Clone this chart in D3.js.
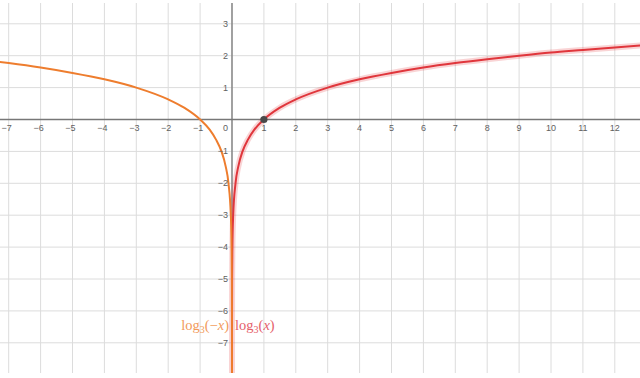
<!DOCTYPE html>
<html>
<head>
<meta charset="utf-8">
<script src="https://cdn.jsdelivr.net/npm/d3@7"></script>
<style>
  body { margin: 0; background: #fff; }
</style>
</head>
<body>
<div id="chart"></div>
<script>
// Points
var log_x = [0.00012, 0.001, 0.004, 0.012, 0.037, 0.11, 0.2, 0.33, 0.5, 0.7, 1, 1.5, 2, 3, 4, 5, 6, 7, 8, 9, 10, 11, 12, 12.9];
var log_y = [-8.2, -6.29, -5.03, -4.03, -3.0, -2.0, -1.46, -1.0, -0.63, -0.32, 0, 0.37, 0.63, 1.0, 1.26, 1.46, 1.63, 1.77, 1.89, 2.0, 2.10, 2.18, 2.26, 2.33];
var neg_x = [-7.4, -7, -6, -5, -4, -3, -2, -1.5, -1, -0.7, -0.5, -0.33, -0.2, -0.11, -0.037, -0.012, -0.004, -0.001, -0.00012];
var neg_y = [1.82, 1.77, 1.63, 1.46, 1.26, 1.0, 0.63, 0.37, 0, -0.32, -0.63, -1.0, -1.46, -2.0, -3.0, -4.03, -5.03, -6.29, -8.2];
var x_ticks = [-7, -6, -5, -4, -3, -2, -1, 1, 2, 3, 4, 5, 6, 7, 8, 9, 10, 11, 12];
var y_ticks = [-7, -6, -5, -4, -3, -2, -1, 1, 2, 3];
var point = [1, 0];

var chart_width = 640;
var chart_height = 378;
var top_edge = 3;
var bottom_edge = 373;

var svg = d3.select('#chart')
  .append('svg')
  .attr('width', chart_width)
  .attr('height', chart_height);

// Scales: origin at (232, 119.5), ~31.9px per unit
var unit = 31.9;
var xScale = d3.scaleLinear()
  .domain([0, 1])
  .range([232, 232 + unit]);
var yScale = d3.scaleLinear()
  .domain([0, 1])
  .range([119.5, 119.5 - unit]);

svg.append('clipPath')
  .attr('id', 'plot')
  .append('rect')
  .attr('x', 0)
  .attr('y', top_edge)
  .attr('width', chart_width)
  .attr('height', bottom_edge - top_edge);

var plot = svg.append('g').attr('clip-path', 'url(#plot)');

// Grid
var grid_x = d3.range(-8, 14);
var grid_y = d3.range(-8, 5);
plot.selectAll('.gx')
  .data(grid_x)
  .enter()
  .append('line')
  .attr('x1', d => xScale(d))
  .attr('x2', d => xScale(d))
  .attr('y1', top_edge)
  .attr('y2', bottom_edge)
  .attr('stroke', '#dcdcdc')
  .attr('stroke-width', 1);
plot.selectAll('.gy')
  .data(grid_y)
  .enter()
  .append('line')
  .attr('x1', 0)
  .attr('x2', chart_width)
  .attr('y1', d => yScale(d))
  .attr('y2', d => yScale(d))
  .attr('stroke', '#dcdcdc')
  .attr('stroke-width', 1);

// Axes
plot.append('line')
  .attr('x1', 0).attr('x2', chart_width)
  .attr('y1', yScale(0)).attr('y2', yScale(0))
  .attr('stroke', '#777').attr('stroke-width', 1.3);
plot.append('line')
  .attr('x1', xScale(0)).attr('x2', xScale(0))
  .attr('y1', top_edge).attr('y2', bottom_edge)
  .attr('stroke', '#777').attr('stroke-width', 1.3);

// Tick labels
function fmt(d) {
  return d < 0 ? '\u2212' + Math.abs(d) : String(d);
}
svg.selectAll('.xl')
  .data(x_ticks)
  .enter()
  .append('text')
  .text(fmt)
  .attr('x', d => xScale(d) - (d < 0 ? 2 : 0))
  .attr('y', yScale(0) + 11)
  .attr('font-family', 'Liberation Sans, Arial, sans-serif')
  .attr('font-size', 9)
  .attr('fill', '#5f5f5f')
  .attr('text-anchor', 'middle');
svg.selectAll('.yl')
  .data(y_ticks)
  .enter()
  .append('text')
  .text(fmt)
  .attr('x', xScale(0) - 4)
  .attr('y', d => yScale(d) + 3)
  .attr('font-family', 'Liberation Sans, Arial, sans-serif')
  .attr('font-size', 9)
  .attr('fill', '#5f5f5f')
  .attr('text-anchor', 'end');
svg.append('text')
  .text('0')
  .attr('x', xScale(0) - 4)
  .attr('y', yScale(0) + 11)
  .attr('font-family', 'Liberation Sans, Arial, sans-serif')
  .attr('font-size', 9)
  .attr('fill', '#5f5f5f')
  .attr('text-anchor', 'end');

// Curves
var line = d3.line()
  .x(d => xScale(d[0]))
  .y(d => yScale(d[1]))
  .curve(d3.curveMonotoneX);

var red_pts = log_x.map((d, i) => [d, log_y[i]]);
var orange_pts = neg_x.map((d, i) => [d, neg_y[i]]);

plot.append('path')
  .attr('d', line(red_pts))
  .attr('fill', 'none')
  .attr('stroke', '#e23b40')
  .attr('stroke-opacity', 0.22)
  .attr('stroke-width', 6);
plot.append('path')
  .attr('d', line(red_pts))
  .attr('fill', 'none')
  .attr('stroke', '#e0363c')
  .attr('stroke-width', 2);
plot.append('path')
  .attr('d', line(orange_pts))
  .attr('fill', 'none')
  .attr('stroke', '#ee7d2e')
  .attr('stroke-width', 2);

// Point at (1, 0)
svg.append('circle')
  .attr('cx', xScale(point[0]))
  .attr('cy', yScale(point[1]))
  .attr('r', 3.6)
  .attr('fill', '#4a4a4a');

// Labels
var lab_neg = svg.append('text')
  .attr('x', 229).attr('y', 330)
  .attr('text-anchor', 'end')
  .attr('font-family', 'Liberation Serif, DejaVu Serif, serif')
  .attr('font-size', 14.5)
  .attr('fill', '#f29a5a');
lab_neg.append('tspan').text('log');
lab_neg.append('tspan').text('3').attr('font-size', 10).attr('dy', 3);
lab_neg.append('tspan').text('(\u2212').attr('dy', -3);
lab_neg.append('tspan').text('x').attr('font-style', 'italic');
lab_neg.append('tspan').text(')');

var lab_pos = svg.append('text')
  .attr('x', 235).attr('y', 330)
  .attr('font-family', 'Liberation Serif, DejaVu Serif, serif')
  .attr('font-size', 14.5)
  .attr('fill', '#e5606a');
lab_pos.append('tspan').text('log');
lab_pos.append('tspan').text('3').attr('font-size', 10).attr('dy', 3);
lab_pos.append('tspan').text('(').attr('dy', -3);
lab_pos.append('tspan').text('x').attr('font-style', 'italic');
lab_pos.append('tspan').text(')');
</script>
</body>
</html>
